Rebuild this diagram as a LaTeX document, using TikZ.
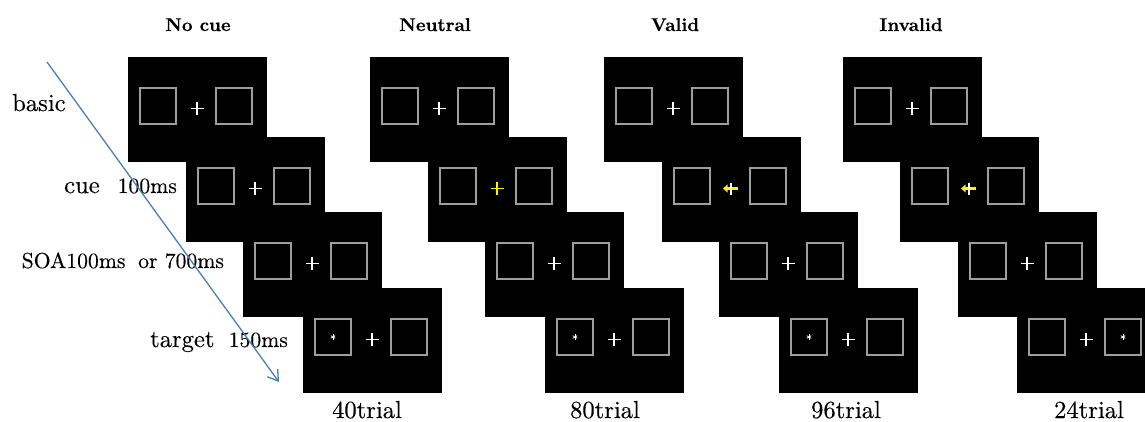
\documentclass[tikz,border=0pt]{standalone}
\usepackage{fontspec}
\newfontfamily\labelfont{lmroman10-regular.otf}[FakeBold=0.3]
\newfontfamily\headfont{lmroman10-bold.otf}[FakeBold=0.3]
\usetikzlibrary{arrows.meta}

\definecolor{frameline}{gray}{0.62}
\definecolor{cueyellow}{RGB}{255,240,0}
\definecolor{pathblue}{RGB}{74,126,187}

\tikzset{
  screenbox/.style={fill=black, minimum width=139pt, minimum height=105pt,
    inner sep=0pt, outer sep=0pt, anchor=north west},
  placeholder/.style={draw=frameline, line width=1.1pt, minimum size=36pt,
    inner sep=0pt, outer sep=0pt, anchor=north west},
  fixcross/.style={draw=white, line width=1.3pt},
  heading/.style={font=\headfont\fontsize{18.5}{20}\selectfont, inner sep=0pt, anchor=base},
  phase/.style={font=\labelfont\fontsize{24.6}{27}\selectfont, inner sep=0pt, anchor=base west},
  phasenum/.style={phase, font=\labelfont\fontsize{21.7}{24}\selectfont},
  count/.style={font=\labelfont\fontsize{24.6}{28}\selectfont, inner sep=0pt, anchor=base},
  timeline/.style={draw=pathblue, line width=1.3pt,
    -{Straight Barb[length=10pt,width=13pt]}},
}

% one display: black screen, two placeholder boxes and a fixation point
\newcommand\trialscreen[3]{%
  \node[screenbox] (#1) at (#2,#3) {};
  \node[placeholder] (#1-l) at ({#2+12},{#3+31}) {};
  \node[placeholder] (#1-r) at ({#2+88},{#3+31}) {};
  \coordinate (#1-c) at ({#2+69},{#3+51.5});
}
\newcommand\plaincross[1]{%
  \draw[fixcross] ([xshift=-6.5pt]#1-c) -- ([xshift=6.5pt]#1-c);
  \draw[fixcross] ([yshift=6.5pt]#1-c) -- ([yshift=-6.5pt]#1-c);
}
\newcommand\neutralcue[1]{%
  \draw[fixcross, draw=cueyellow] ([xshift=-6.5pt]#1-c) -- ([xshift=6.5pt]#1-c);
  \draw[fixcross, draw=cueyellow] ([yshift=6.5pt]#1-c) -- ([yshift=-6.5pt]#1-c);
}
\newcommand\leftcue[1]{%
  \fill[cueyellow] ([xshift=-8pt]#1-c) -- ([xshift=-3.5pt,yshift=4pt]#1-c)
    -- ([xshift=-3.5pt,yshift=-4pt]#1-c) -- cycle;
  \draw[cueyellow, line width=2.6pt] ([xshift=-4pt]#1-c) -- ([xshift=7pt]#1-c);
  \draw[fixcross] ([yshift=6pt]#1-c) -- ([yshift=-6pt]#1-c);
}
\newcommand\targetstar[1]{%
  \foreach \a in {90,30,-30}
    \draw[white, line width=0.8pt] ([shift={(\a:2.6pt)}]#1.center)
      -- ([shift={(\a+180:2.6pt)}]#1.center);
}

\begin{document}
\begin{tikzpicture}[x=1pt,y=-1pt]
  \useasboundingbox (0,0) rectangle (1145,421);
  \clip (0,0) rectangle (1145,421);

  % column headings
  \node[heading] (h1) at (198,31) {No cue};
  \node[heading] (h2) at (435,31) {Neutral};
  \node[heading] (h3) at (675,31) {Valid};
  \node[heading] (h4) at (911,31) {Invalid};

  % No cue
  \trialscreen{a1}{128}{57}  \plaincross{a1}
  \trialscreen{a2}{186}{137} \plaincross{a2}
  \trialscreen{a3}{243}{212} \plaincross{a3}
  \trialscreen{a4}{303}{288} \plaincross{a4} \targetstar{a4-l}

  % Neutral
  \trialscreen{b1}{370}{57}  \plaincross{b1}
  \trialscreen{b2}{428}{137} \neutralcue{b2}
  \trialscreen{b3}{485}{212} \plaincross{b3}
  \trialscreen{b4}{545}{288} \plaincross{b4} \targetstar{b4-l}

  % Valid
  \trialscreen{c1}{604}{57}  \plaincross{c1}
  \trialscreen{c2}{662}{137} \leftcue{c2}
  \trialscreen{c3}{719}{212} \plaincross{c3}
  \trialscreen{c4}{779}{288} \plaincross{c4} \targetstar{c4-l}

  % Invalid
  \trialscreen{d1}{843}{57}  \plaincross{d1}
  \trialscreen{d2}{900}{137} \leftcue{d2}
  \trialscreen{d3}{958}{212} \plaincross{d3}
  \trialscreen{d4}{1017}{288} \plaincross{d4} \targetstar{d4-r}

  % phase labels
  \node[phase] (p1) at (12,111) {basic};
  \node[phase] (p2a) at (64,193) {cue};
  \node[phasenum] (p2b) at (117.5,193) {100ms};
  \node[phasenum] (p3a) at (21.5,268) {SOA100ms};
  \node[phasenum] (p3b) at (138,268) {or 700ms};
  \node[phase] (p4a) at (150,347) {target};
  \node[phasenum] (p4b) at (228.5,347) {150ms};

  % trial counts
  \node[count] (n1) at (367,418) {40trial};
  \node[count] (n2) at (605,418) {80trial};
  \node[count] (n3) at (846,418) {96trial};
  \node[count] (n4) at (1089,418) {24trial};

  % time axis
  \coordinate (t0) at (47,62);
  \coordinate (t1) at (279,382);
  \draw[timeline] (t0) -- (t1);
\end{tikzpicture}
\end{document}
